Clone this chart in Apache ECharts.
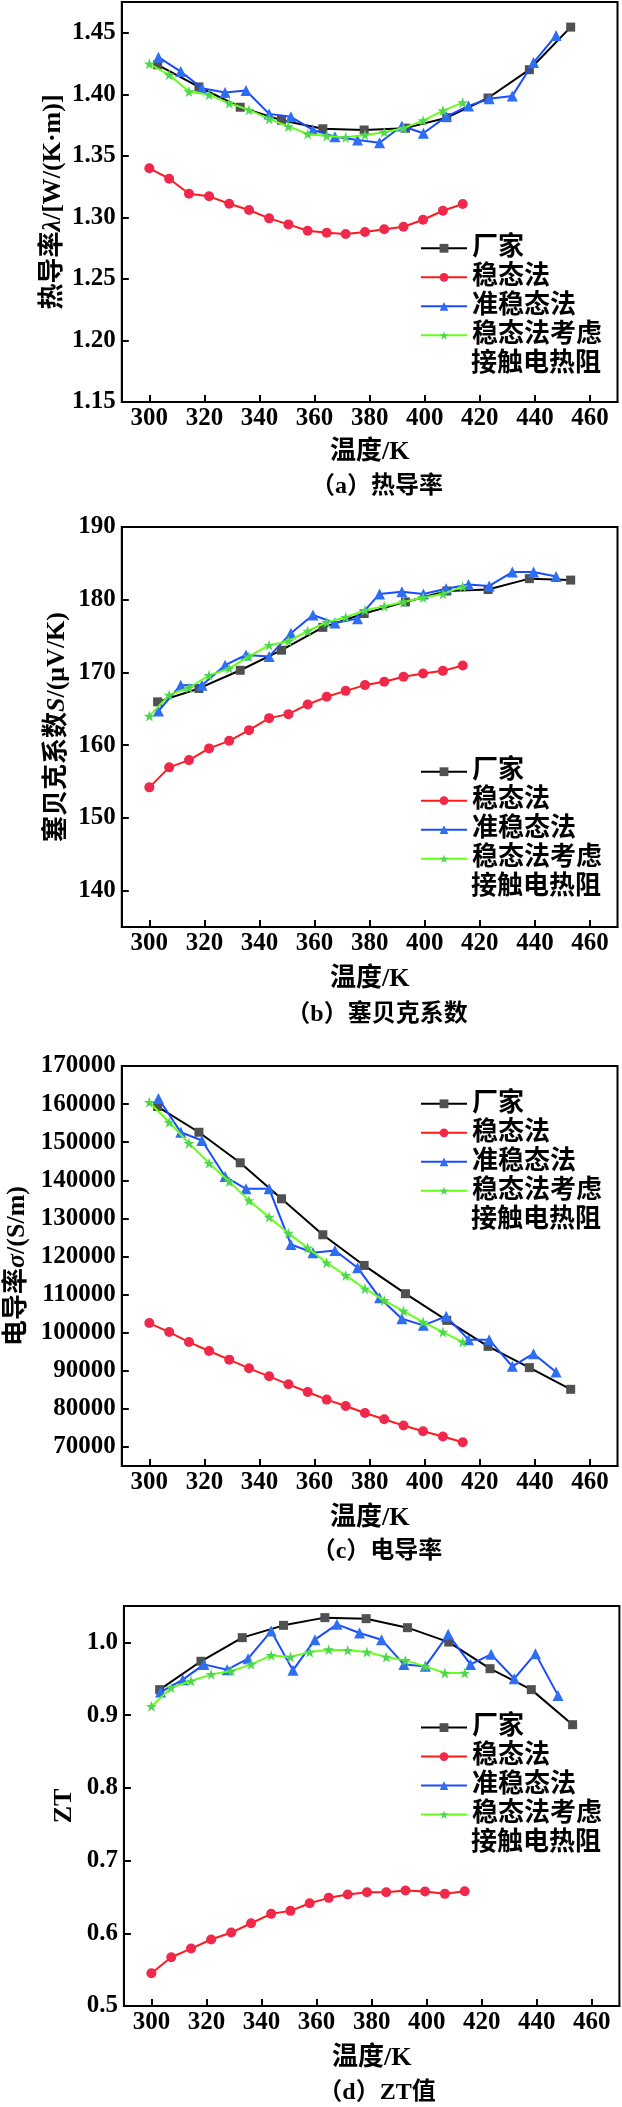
<!DOCTYPE html>
<html><head><meta charset="utf-8">
<script src="https://cdn.jsdelivr.net/npm/echarts@6/dist/echarts.min.js"></script>
<style>html,body{margin:0;padding:0;background:#fff}#c{width:622px;height:2107px}</style>
</head><body><div id="c"></div>
<script>
// ---- data ----
const seriesNames = ['厂家', '稳态法', '准稳态法', '稳态法考虑\n接触电热阻'];
const T_maker = [303, 318, 333, 348, 363, 378, 393, 408, 423, 438, 453];
const T_steady = [300, 307.2, 314.4, 321.7, 329, 336.2, 343.5, 350.5, 357.5, 364.4, 371.3, 378.3, 385.3, 392.3, 399.4, 406.6, 413.8];
const T_quasi = [303.3, 311.4, 319.1, 327.5, 335.1, 343.5, 351.4, 359.4, 367.4, 375.6, 383.6, 391.7, 399.5, 407.8, 415.9, 423.4, 431.8, 439.5, 447.7];
const T_contact = T_steady;
const xTicks = [300, 320, 340, 360, 380, 400, 420, 440, 460];

const maker_a = [1.424, 1.406, 1.3895, 1.379, 1.372, 1.371, 1.3725, 1.381, 1.397, 1.420, 1.4546];
const steady_a = [1.3399, 1.3314, 1.3192, 1.3171, 1.3111, 1.3060, 1.2992, 1.2943, 1.2891, 1.2875, 1.2865, 1.2881, 1.2903, 1.2924, 1.2981, 1.3054, 1.3109];
const quasi_a = [1.4302, 1.4185, 1.405, 1.4014, 1.4031, 1.3841, 1.3817, 1.3711, 1.3656, 1.3629, 1.3607, 1.3743, 1.3684, 1.3819, 1.3906, 1.3963, 1.3987, 1.4258, 1.4478];
const contact_a = [1.4248, 1.4158, 1.4022, 1.3996, 1.3928, 1.3873, 1.3800, 1.3738, 1.3678, 1.3662, 1.3651, 1.3670, 1.3692, 1.3725, 1.3786, 1.3868, 1.3933];
const yTicks_a = [1.15, 1.20, 1.25, 1.30, 1.35, 1.40, 1.45];

const maker_b = [165.96, 167.8, 170.3, 173.06, 176.2, 178.1, 179.7, 181.2, 181.4, 182.9, 182.7];
const steady_b = [154.2, 156.95, 157.95, 159.56, 160.6, 162.07, 163.72, 164.27, 165.6, 166.65, 167.47, 168.26, 168.71, 169.4, 169.86, 170.22, 170.96];
const quasi_b = [164.7, 168.25, 168.25, 171.0, 172.4, 172.2, 175.4, 177.9, 176.8, 177.4, 180.8, 181.1, 180.8, 181.5, 182.1, 181.9, 183.8, 183.8, 183.2];
const contact_b = [164.0, 166.9, 167.9, 169.6, 170.55, 172.2, 173.75, 174.3, 175.7, 176.9, 177.6, 178.56, 179.1, 179.7, 180.3, 180.8, 181.8];
const yTicks_b = [140, 150, 160, 170, 180, 190];

const maker_c = [159350, 152610, 144590, 135140, 125700, 117650, 110230, 103230, 96410, 90820, 85130];
const steady_c = [102520, 100160, 97540, 95180, 92920, 90640, 88540, 86440, 84420, 82430, 80750, 78920, 77260, 75610, 74120, 72730, 71230];
const quasi_c = [161500, 152610, 150430, 140990, 137770, 137770, 123160, 120980, 121590, 117050, 109180, 103670, 101920, 104280, 98170, 98170, 91160, 94490, 89670];
const contact_c = [160480, 155230, 149730, 144480, 139680, 134700, 130320, 126120, 122290, 118360, 115030, 111540, 108470, 105670, 102780, 100160, 97540];
const yTicks_c = [70000, 80000, 90000, 100000, 110000, 120000, 130000, 140000, 150000, 160000, 170000];

const maker_d = [0.935, 0.974, 1.0065, 1.0234, 1.034, 1.0326, 1.0202, 1.0004, 0.9638, 0.935, 0.8868];
const steady_d = [0.545, 0.567, 0.579, 0.5914, 0.601, 0.6138, 0.6267, 0.6308, 0.6413, 0.6487, 0.6533, 0.6564, 0.6564, 0.6588, 0.6574, 0.6542, 0.6578];
const quasi_d = [0.9316, 0.9487, 0.9697, 0.9624, 0.9776, 1.0155, 0.9615, 1.0037, 1.0248, 1.0128, 1.0037, 0.9697, 0.967, 1.011, 0.9697, 0.9835, 0.95, 0.9845, 0.9271];
const contact_d = [0.912, 0.9377, 0.9468, 0.956, 0.9605, 0.9697, 0.9821, 0.9798, 0.9867, 0.99, 0.989, 0.9867, 0.9798, 0.9752, 0.967, 0.9578, 0.9578];
const yTicks_d = [0.5, 0.6, 0.7, 0.8, 0.9, 1.0];

// ---- layout / style ----
const FONT = "'Liberation Serif','Noto Sans CJK SC',serif";
const panels = [
  {left:121.8, top:2, width:495.7, height:400, ymin:1.15, ymax:1.475, yTicks:yTicks_a, dec:2,
   yname:'热导率{i|λ}/[W/(K·m)]', yGap:56, xGap:37, legendTop:233.8, caption:'（a）热导率', capY:487,
   data:[maker_a, steady_a, quasi_a, contact_a]},
  {left:121.8, top:527, width:495.7, height:400, ymin:135, ymax:190, yTicks:yTicks_b, dec:0,
   yname:'塞贝克系数{i|S}/(μV/K)', yGap:52, xGap:39, legendTop:757.2, caption:'（b）塞贝克系数', capY:1015,
   data:[maker_b, steady_b, quasi_b, contact_b]},
  {left:121.8, top:1066, width:495.7, height:400, ymin:65000, ymax:170000, yTicks:yTicks_c, dec:0,
   yname:'电导率{i|σ}/(S/m)', yGap:92, xGap:39, legendTop:1089.3, caption:'（c）电导率', capY:1552,
   data:[maker_c, steady_c, quasi_c, contact_c]},
  {left:123.9, top:1606, width:495.5, height:400, ymin:0.5, ymax:1.05, yTicks:yTicks_d, dec:1,
   yname:'ZT', yGap:47, xGap:39, legendTop:1713.1, caption:'（d）ZT值', capY:2093,
   data:[maker_d, steady_d, quasi_d, contact_d]}
];
const Ts = [T_maker, T_steady, T_quasi, T_contact];
const STAR = 'path://M50,0 L61.8,35.4 L99,35.4 L69,57.3 L80.3,92.7 L50,70.8 L19.7,92.7 L31,57.3 L1,35.4 L38.2,35.4 Z';
const styles = [
  {line:'#000000', fill:'#505050', symbol:'rect', size:9},
  {line:'#ff1a1a', fill:'#f0284c', symbol:'circle', size:10},
  {line:'#1a4cff', fill:'#2e6ef0', symbol:'triangle', size:11},
  {line:'#66ff1a', fill:'#4ed84e', symbol:STAR, size:11}
];
const LEG_LEFT = 420, LEG_ITEM_W = 46, LEG_ROW = 29;
const txt = (size) => ({fontFamily:FONT, fontSize:size, fontWeight:'bold', color:'#000'});

const graphics = [];
panels.forEach(p => {
  graphics.push({type:'text', x:377, y:p.capY, silent:true,
    style:{text:p.caption, fontFamily:FONT, fontSize:24, fontWeight:'bold', fill:'#000',
      align:'center', verticalAlign:'middle', textAlign:'center', textVerticalAlign:'middle'}});
  // second line of the 4th legend entry
  graphics.push({type:'text', x:LEG_LEFT + LEG_ITEM_W + 5, y:p.legendTop + 14.5 + 4 * LEG_ROW, silent:true,
    style:{text:seriesNames[3].split('\n')[1], fontFamily:FONT, fontSize:26, fontWeight:'bold', fill:'#000',
      align:'left', verticalAlign:'middle', textAlign:'left', textVerticalAlign:'middle'}});
});

const option = {
  animation:false,
  backgroundColor:'#fff',
  grid: panels.map(p => ({left:p.left, top:p.top, width:p.width, height:p.height, show:true,
    borderColor:'#000', borderWidth:2, backgroundColor:'transparent', containLabel:false, outerBoundsMode:'none'})),
  xAxis: panels.map((p,i) => ({gridIndex:i, type:'value', min:290, max:470,
    axisLine:{onZero:false, lineStyle:{color:'#000', width:2}},
    axisTick:{inside:true, length:7, lineStyle:{color:'#000', width:2}, customValues:xTicks},
    axisLabel:Object.assign(txt(25), {margin:4, customValues:xTicks}),
    splitLine:{show:false},
    name:'温度/K', nameLocation:'middle', nameGap:p.xGap, nameMoveOverlap:false, nameTextStyle:txt(26)})),
  yAxis: panels.map((p,i) => ({gridIndex:i, type:'value', min:p.ymin, max:p.ymax,
    axisLine:{onZero:false, lineStyle:{color:'#000', width:2}},
    axisTick:{inside:true, length:7, lineStyle:{color:'#000', width:2}, customValues:p.yTicks},
    axisLabel:Object.assign(txt(25), {margin:6, customValues:p.yTicks, formatter:v => Number(v).toFixed(p.dec)}),
    splitLine:{show:false},
    name:p.yname, nameLocation:'middle', nameGap:p.yGap, nameMoveOverlap:false,
    nameTextStyle:Object.assign(txt(26), {rich:{i:Object.assign(txt(26), {fontStyle:'italic'})}})})),
  legend: panels.map(p => ({orient:'vertical', left:LEG_LEFT, top:p.legendTop, padding:0, itemGap:0,
    itemWidth:LEG_ITEM_W, itemHeight:11, selectedMode:false,
    textStyle:Object.assign(txt(26), {lineHeight:LEG_ROW}),
    formatter: name => name.split('\n')[0],
    data:seriesNames.slice()})),
  graphic: graphics,
  series: []
};
panels.forEach((p, i) => {
  for (let k = 0; k < 4; k++) {
    const s = styles[k];
    option.series.push({
      type:'line', name:seriesNames[k], xAxisIndex:i, yAxisIndex:i,
      data:Ts[k].map((t, j) => [t, p.data[k][j]]),
      symbol:s.symbol, symbolSize:s.size, showAllSymbol:true,
      lineStyle:{color:s.line, width:2}, itemStyle:{color:s.fill}, z:2+k
    });
  }
});
const chart = echarts.init(document.getElementById('c'));
chart.setOption(option);
</script></body></html>
